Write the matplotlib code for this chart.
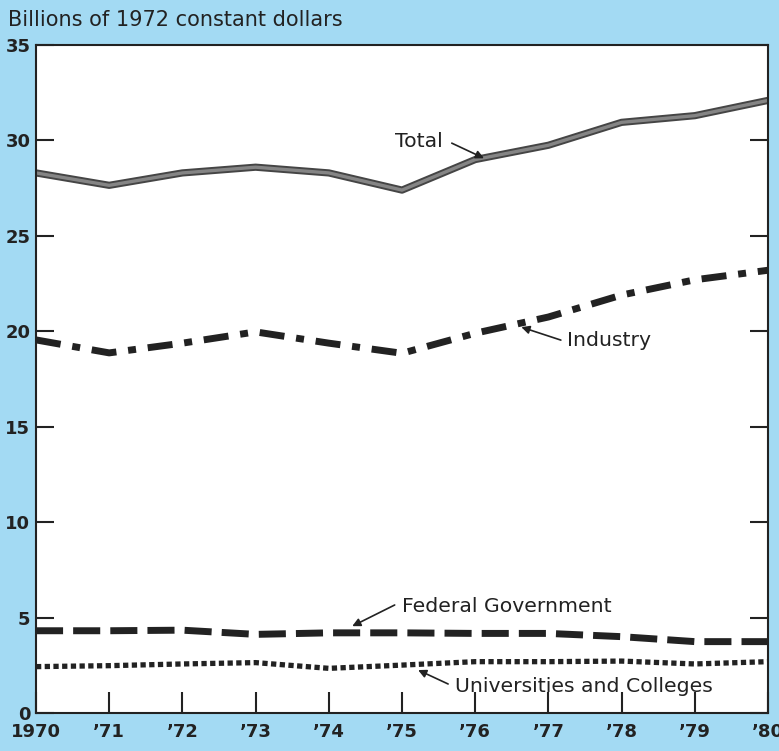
import matplotlib
matplotlib.use("Agg")
import matplotlib.pyplot as plt
import matplotlib.patheffects as pe

years = [1970, 1971, 1972, 1973, 1974, 1975, 1976, 1977, 1978, 1979, 1980]
year_labels = ["1970", "’71", "’72", "’73", "’74", "’75", "’76", "’77", "’78", "’79", "’80"]

total = [28.3, 27.65, 28.3, 28.6, 28.3, 27.4, 29.0, 29.75, 30.95, 31.3, 32.1]
industry = [19.55, 18.87, 19.38, 19.97, 19.38, 18.85, 19.9, 20.75, 21.9, 22.7, 23.2]
federal = [4.31, 4.31, 4.34, 4.12, 4.2, 4.2, 4.17, 4.17, 4.0, 3.74, 3.74]
universities = [2.43, 2.48, 2.57, 2.64, 2.34, 2.51, 2.69, 2.69, 2.72, 2.57, 2.69]

yticks = [0, 5, 10, 15, 20, 25, 30, 35]

bg = "#a3daf3"
ink = "#222222"

plt.rcParams["font.family"] = ["DejaVu Sans"]

fig = plt.figure(figsize=(7.79, 7.51), dpi=100, facecolor=bg)
ax = fig.add_axes([0.0462, 0.0506, 0.9397, 0.8894])
ax.set_facecolor("white")

# total: grey line with dark edges
ax.plot(years, total, color="#858585", lw=2.4, solid_capstyle="butt",
        path_effects=[pe.Stroke(linewidth=5.2, foreground="#454545"), pe.Normal()])
ax.plot(years, industry, color=ink, lw=5, dashes=(3.6, 1.7, 1.15, 1.7), dash_capstyle="butt")
ax.plot(years, federal, color=ink, lw=5, dashes=(3.9, 1.45), dash_capstyle="butt")
ax.plot(years, universities, color=ink, lw=3.8, dashes=(1.0, 0.65), dash_capstyle="butt")

ax.set_xlim(1970, 1980)
ax.set_ylim(0, 35)
ax.set_xticks(years)
ax.set_xticklabels(year_labels)
ax.set_yticks(yticks)
ax.tick_params(axis="x", direction="in", length=15, width=1.5, colors=ink,
               labelsize=13, pad=7)
ax.tick_params(axis="y", direction="in", length=13, width=1.5, colors=ink,
               labelsize=13, pad=4, right=True)
for t in ax.get_xticklabels() + ax.get_yticklabels():
    t.set_fontweight("bold")
for s in ax.spines.values():
    s.set_color(ink)
    s.set_linewidth(1.5)

fig.text(0.010, 0.973, "Billions of 1972 constant dollars", fontsize=15,
         color=ink, ha="left", va="center")

lab = dict(fontsize=14.7, color=ink, va="center")
arr = dict(arrowstyle="-|>", color=ink, lw=1.2, mutation_scale=12, shrinkA=0, shrinkB=0)

ax.text(1974.9, 29.95, "Total", ha="left", **lab)
ax.annotate("", xy=(1976.12, 29.07), xytext=(1975.68, 29.86), arrowprops=arr)

ax.text(1977.25, 19.54, "Industry", ha="left", **lab)
ax.annotate("", xy=(1976.63, 20.22), xytext=(1977.17, 19.54), arrowprops=arr)

ax.text(1975.0, 5.6, "Federal Government", ha="left", **lab)
ax.annotate("", xy=(1974.32, 4.55), xytext=(1974.9, 5.66), arrowprops=arr)

ax.text(1975.72, 1.41, "Universities and Colleges", ha="left", **lab)
ax.annotate("", xy=(1975.22, 2.25), xytext=(1975.63, 1.52), arrowprops=arr)

fig.savefig("out.png", dpi=100, facecolor=bg)
